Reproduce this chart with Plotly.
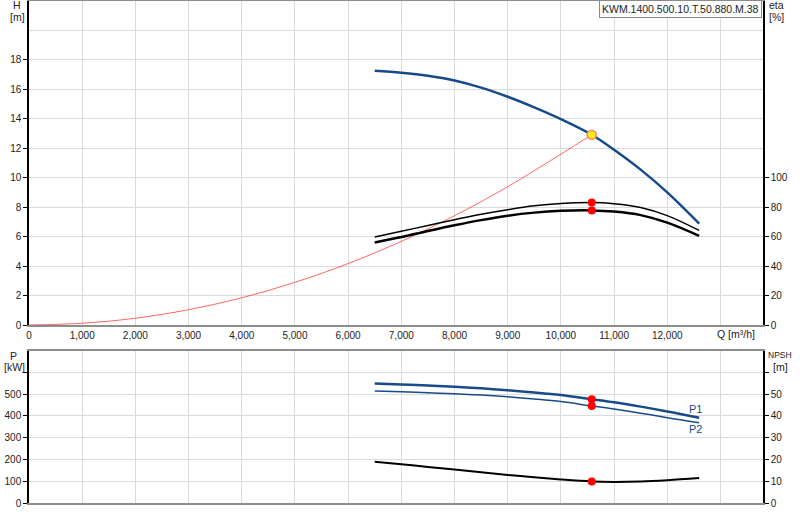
"""
Pump curve sheet: head / efficiency on top, power / NPSH below.
"""

import plotly.graph_objects as go
from plotly.subplots import make_subplots

PUMP_NAME = "KWM.1400.500.10.T.50.880.M.38"

# pump curves (Q in m³/h)
Q_PUMP = [6500, 7000, 7500, 8000, 8500, 9000, 9500, 10000, 10580, 11000, 11500, 12000, 12600]
HEAD = [17.27, 17.13, 16.92, 16.6, 16.12, 15.5, 14.78, 13.98, 12.92, 11.9, 10.55, 9.0, 6.88]
ETA_HYD = [59.7, 63.6, 67.6, 71.5, 75.2, 78.3, 80.9, 82.5, 83.2, 82.4, 79.8, 74.3, 64.2]
ETA_TOT = [56.0, 59.7, 63.8, 67.7, 71.2, 74.2, 76.3, 77.5, 77.8, 77.0, 74.6, 69.5, 60.5]
P1 = [549, 545, 540, 534, 527, 518, 508, 496, 477, 463, 443, 421, 392]
P2 = [515, 511, 507, 502, 496, 488, 478, 466, 446, 432, 413, 392, 369]
NPSH = [19.0, 17.8, 16.6, 15.4, 14.15, 12.9, 11.8, 10.8, 9.9, 9.7, 9.9, 10.5, 11.5]

# system curve
Q_SYS = [0, 1000, 2000, 3000, 4000, 5000, 6000, 7000, 8000, 9000, 10000, 10580]
H_SYS = [0, 0.12, 0.46, 1.04, 1.85, 2.9, 4.17, 5.68, 7.42, 9.39, 11.6, 12.92]

OP = Q_PUMP.index(10580)  # duty point

Q_TICKS = list(range(0, 13001, 1000))
H_TICKS = list(range(0, 19, 2))
ETA_TICKS = list(range(0, 101, 20))
P_TICKS = list(range(0, 601, 100))
NPSH_TICKS = list(range(0, 61, 10))

BLUE = "#164b8a"
GRID = "#dadada"
FONT = "Liberation Sans, Arial, sans-serif"

# plot area in window pixels, used to place the free labels
L, R, T, B = 29, 763, 1, 503


def px(x, y):
    return (x - L) / (R - L), (B - y) / (B - T)


fig = make_subplots(rows=2, cols=1, specs=[[{"secondary_y": True}], [{"secondary_y": True}]])

line_kw = dict(mode="lines", line_shape="spline", hoverinfo="skip", showlegend=False)

fig.add_trace(go.Scatter(x=Q_SYS, y=H_SYS, line=dict(color="rgba(255,0,0,0.6)", width=1), **line_kw),
              row=1, col=1)
fig.add_trace(go.Scatter(x=Q_PUMP, y=HEAD, line=dict(color=BLUE, width=2.5), **line_kw), row=1, col=1)
fig.add_trace(go.Scatter(x=Q_PUMP, y=ETA_HYD, line=dict(color="black", width=1.5), **line_kw),
              row=1, col=1, secondary_y=True)
fig.add_trace(go.Scatter(x=Q_PUMP, y=ETA_TOT, line=dict(color="black", width=2.5), **line_kw),
              row=1, col=1, secondary_y=True)
fig.add_trace(go.Scatter(x=Q_PUMP, y=P1, line=dict(color=BLUE, width=2.5), **line_kw), row=2, col=1)
fig.add_trace(go.Scatter(x=Q_PUMP, y=P2, line=dict(color=BLUE, width=1.5), **line_kw), row=2, col=1)
fig.add_trace(go.Scatter(x=Q_PUMP, y=NPSH, line=dict(color="black", width=2), **line_kw),
              row=2, col=1, secondary_y=True)

# duty point markers
dot = dict(mode="markers", marker=dict(color="red", size=8), hoverinfo="skip", showlegend=False)
fig.add_trace(go.Scatter(x=[Q_PUMP[OP]] * 2, y=[ETA_HYD[OP], ETA_TOT[OP]], **dot),
              row=1, col=1, secondary_y=True)
fig.add_trace(go.Scatter(x=[Q_PUMP[OP]] * 2, y=[P1[OP], P2[OP]], **dot), row=2, col=1)
fig.add_trace(go.Scatter(x=[Q_PUMP[OP]], y=[NPSH[OP]], **dot), row=2, col=1, secondary_y=True)
fig.add_trace(go.Scatter(x=[Q_PUMP[OP]], y=[HEAD[OP]], mode="markers",
                         marker=dict(color="#ffee00", size=9, line=dict(color="#ff8080", width=1.5)),
                         hoverinfo="skip", showlegend=False), row=1, col=1)

tick_font = dict(family=FONT, size=10, color="#222")
axis_common = dict(showgrid=True, gridcolor=GRID, gridwidth=1, zeroline=False, tickfont=tick_font,
                   automargin=False)

fig.update_xaxes(range=[0, 13800], tickvals=Q_TICKS, **axis_common)
fig.update_xaxes(ticktext=[f"{q:,}" for q in Q_TICKS[:-1]] + [""], ticks="",
                 showline=True, linecolor="#8c8c8c", linewidth=2, mirror=True, row=1, col=1)
fig.update_xaxes(showticklabels=False, ticks="", showline=True, linecolor="#8c8c8c",
                 linewidth=2, mirror=True, row=2, col=1)

fig.update_yaxes(range=[0, 22], tickvals=H_TICKS, ticks="outside", ticklen=4, tickcolor="black",
                 showline=True, linecolor="black", linewidth=1.5,
                 minor=dict(tickvals=[20], showgrid=True, gridcolor=GRID, ticks=""),
                 row=1, col=1, secondary_y=False, **axis_common)
fig.update_yaxes(range=[0, 220], tickvals=ETA_TICKS, ticks="outside", ticklen=4, tickcolor="black",
                 showline=True, linecolor="black", linewidth=1.5, showgrid=False, zeroline=False,
                 tickfont=tick_font, automargin=False, row=1, col=1, secondary_y=True)
fig.update_yaxes(range=[0, 700], tickvals=P_TICKS, ticktext=[str(v) for v in P_TICKS[:-1]] + [""],
                 ticks="outside", ticklen=4, tickcolor="black",
                 showline=True, linecolor="black", linewidth=1.5,
                 row=2, col=1, secondary_y=False, **axis_common)
fig.update_yaxes(range=[0, 70], tickvals=NPSH_TICKS, ticktext=[str(v) for v in NPSH_TICKS[:-1]] + [""],
                 ticks="outside", ticklen=4, tickcolor="black",
                 showline=True, linecolor="black", linewidth=1.5, showgrid=False, zeroline=False,
                 tickfont=tick_font, automargin=False, row=2, col=1, secondary_y=True)

fig.update_layout(
    width=800,
    height=520,
    margin=dict(l=L, r=800 - R, t=T, b=520 - B, autoexpand=False),
    plot_bgcolor="white",
    paper_bgcolor="white",
    showlegend=False,
    font=dict(family=FONT, size=11, color="#222"),
)
fig.layout.xaxis.domain = [0, 1]
fig.layout.xaxis2.domain = [0, 1]
fig.layout.yaxis.domain = [(B - 325) / (B - T), 1]
fig.layout.yaxis2.domain = [(B - 325) / (B - T), 1]
fig.layout.yaxis3.domain = [0, (B - 350.7) / (B - T)]
fig.layout.yaxis4.domain = [0, (B - 350.7) / (B - T)]

labels = [
    ("H", 17, 5, "center", 10.5),
    ("[m]", 17.5, 17, "center", 10.5),
    ("P", 13.5, 356, "center", 10.5),
    ("[kW]", 14, 367, "center", 10.5),
    ("eta", 767, 5, "left", 10.5),
    ("[%]", 767, 17, "left", 10.5),
    ("NPSH", 766, 355, "left", 8.5),
    ("[m]", 780, 367, "center", 10.5),
    ("Q [m³/h]", 757, 334, "right", 10.5),
]
for text, x, y, anchor, size in labels:
    ax, ay = px(x, y)
    fig.add_annotation(text=text, x=ax, y=ay, xref="paper", yref="paper", xanchor=anchor,
                       yanchor="middle", showarrow=False, font=dict(family=FONT, size=size, color="#222"))

ax, ay = px(762, 0)
fig.add_annotation(text=PUMP_NAME, x=ax, y=ay, xref="paper", yref="paper", xanchor="right",
                   yanchor="top", showarrow=False, bgcolor="white", bordercolor="#8a8a8a",
                   borderwidth=1, borderpad=2, font=dict(family=FONT, size=10.5, color="#222"))

# curve tags
for text, y in [("P1", 408.5), ("P2", 429)]:
    ax, ay = px(695.5, y)
    fig.add_annotation(text=text, x=ax, y=ay, xref="paper", yref="paper", xanchor="center",
                       yanchor="middle", showarrow=False, font=dict(family=FONT, size=11, color=BLUE))

# the page body has a default 8px margin; drop it so the figure sits at the window corner
fig.write_html("out.html", config={"displayModeBar": False},
               post_script="document.body.style.margin = '0';")
